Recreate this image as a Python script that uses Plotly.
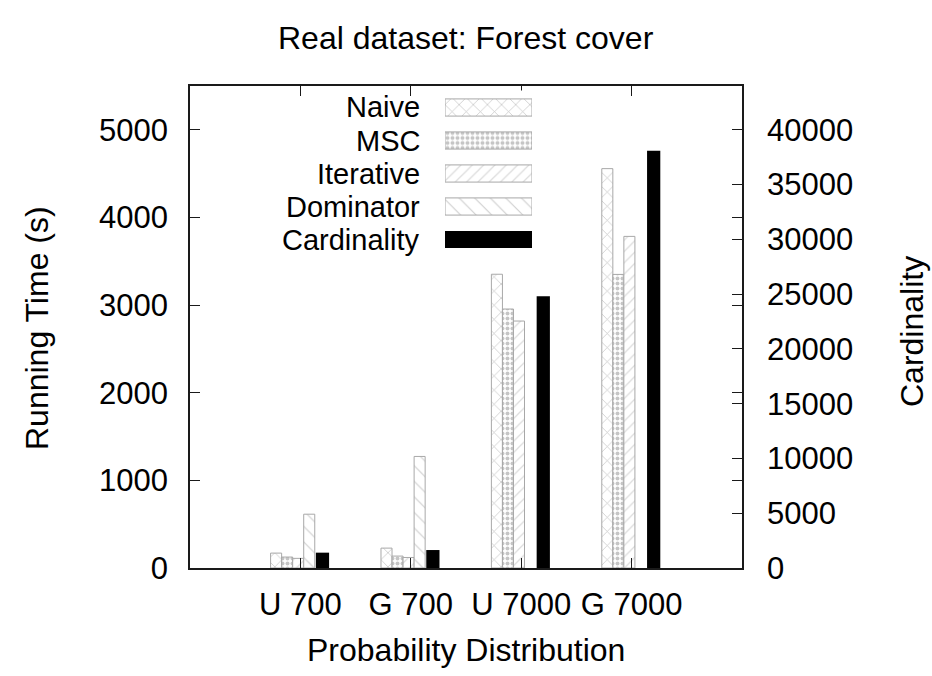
import plotly.graph_objects as go

categories = ["U 700", "G 700", "U 7000", "G 7000"]
positions = [1, 2, 3, 4]
naive = [170, 227, 3352, 4557]
msc = [125, 136, 2955, 3350]
iterative = [110, 120, 2818, 3784]
dominator = [614, 1273, None, None]
cardinality = [1400, 1640, 24800, 38100]

series_names = ["Naive", "MSC", "Iterative", "Dominator", "Cardinality"]
left_ticks = [0, 1000, 2000, 3000, 4000, 5000]
right_ticks = [0, 5000, 10000, 15000, 20000, 25000, 30000, 35000, 40000]

FONT = "Liberation Sans, Arial, sans-serif"
FS = 32
TFS = 31
LFS = 29
W, H = 932, 676
L, R, T, B = 190, 190, 86, 108
PW, PH = W - L - R, H - T - B

def px_x(p):
    return (p - L) / PW

def px_y(p):
    return (H - B - p) / PH

styles = {
    "Naive": dict(shape="x", fg="#8a8a8a", size=10, sol=0.14, off=-0.27, w=0.1),
    "MSC": dict(shape=".", fg="#8c8c8c", size=5, sol=0.5, off=-0.17, w=0.1),
    "Iterative": dict(shape="/", fg="#b8b8b8", size=8, sol=0.15, off=-0.07, w=0.1),
    "Dominator": dict(shape="\\", fg="#9c9c9c", size=11, sol=0.1, off=0.03, w=0.1),
}
values = {"Naive": naive, "MSC": msc, "Iterative": iterative, "Dominator": dominator}

fig = go.Figure()
for name in ["Naive", "MSC", "Iterative", "Dominator"]:
    s = styles[name]
    fig.add_trace(go.Bar(
        x=positions, y=values[name], name=name, width=s["w"], offset=s["off"],
        marker=dict(color="white", line=dict(color="#a8a8a8", width=1),
                    pattern=dict(shape=s["shape"], fgcolor=s["fg"], bgcolor="white",
                                 size=s["size"], solidity=s["sol"])),
        showlegend=False, yaxis="y", xaxis="x"))

fig.add_trace(go.Bar(
    x=positions, y=cardinality, name="Cardinality", width=0.12, offset=0.14,
    marker=dict(color="black", line=dict(color="black", width=0)),
    showlegend=False, yaxis="y2", xaxis="x"))

# custom legend samples (gnuplot style: text then sample)
leg_vals = [1, 1, 1, 1, 1]
for name in series_names:
    if name == "Cardinality":
        mk = dict(color="black", line=dict(color="black", width=0))
    else:
        s = styles[name]
        mk = dict(color="white", line=dict(color="#a8a8a8", width=1),
                  pattern=dict(shape=s["shape"], fgcolor=s["fg"], bgcolor="white",
                               size=s["size"], solidity=s["sol"]))
    fig.add_trace(go.Bar(
        x=[leg_vals[series_names.index(name)]], y=[name], orientation="h", width=0.52,
        marker=mk, showlegend=False, xaxis="x3", yaxis="y3", hoverinfo="skip"))

annotations = []
for name in series_names:
    annotations.append(dict(x=px_x(421), y=name, xref="paper", yref="y3",
                            text=name, showarrow=False, xanchor="right", yanchor="middle",
                            borderpad=0,
                            font=dict(family=FONT, size=LFS, color="black")))

annotations += [
    dict(x=0.5, y=px_y(38), xref="paper", yref="paper", text="Real dataset: Forest cover",
         showarrow=False, xanchor="center", yanchor="middle",
         font=dict(family=FONT, size=FS, color="black")),
    dict(x=px_x(37), y=px_y(328), xref="paper", yref="paper", text="Running Time (s)",
         textangle=-90, showarrow=False, xanchor="center", yanchor="middle",
         font=dict(family=FONT, size=FS, color="black")),
    dict(x=px_x(912), y=px_y(332), xref="paper", yref="paper", text="Cardinality",
         textangle=-90, showarrow=False, xanchor="center", yanchor="middle",
         font=dict(family=FONT, size=FS, color="black")),
    dict(x=0.5, y=px_y(650), xref="paper", yref="paper", text="Probability Distribution",
         showarrow=False, xanchor="center", yanchor="middle",
         font=dict(family=FONT, size=FS, color="black")),
]

axis_line = dict(showline=True, linecolor="#1a1a1a", linewidth=1.6)
tickfont = dict(family=FONT, size=TFS, color="black")

fig.update_layout(
    width=W, height=H,
    margin=dict(l=L, r=R, t=T, b=B),
    paper_bgcolor="white", plot_bgcolor="white",
    barmode="overlay",
    showlegend=False,
    annotations=annotations,
    xaxis=dict(range=[0, 5], tickvals=positions, ticktext=categories, ticks="inside",
               ticklen=10, tickcolor="#1a1a1a", mirror="ticks", showgrid=False,
               zeroline=False, tickfont=tickfont, ticklabelstandoff=8, **axis_line),
    yaxis=dict(range=[0, 5500], tickvals=left_ticks, ticks="inside", ticklen=10,
               tickcolor="#1a1a1a", mirror="ticks", showgrid=False, zeroline=False,
               tickfont=tickfont, ticklabelstandoff=14, **axis_line),
    yaxis2=dict(range=[0, 44000], tickvals=right_ticks, tickformat="d", overlaying="y",
                side="right", ticks="inside", ticklen=10, tickcolor="#1a1a1a",
                showgrid=False, zeroline=False, tickfont=tickfont, ticklabelstandoff=24,
                showline=False),
    xaxis3=dict(domain=[px_x(445), px_x(532)], range=[0, 1], visible=False, anchor="y3"),
    yaxis3=dict(domain=[px_y(256.5), px_y(90.5)], visible=False, anchor="x3",
                categoryorder="array", categoryarray=series_names[::-1], type="category"),
)

fig.write_html("out.html", config={"displayModeBar": False},
               post_script="document.body.style.margin='0';")
